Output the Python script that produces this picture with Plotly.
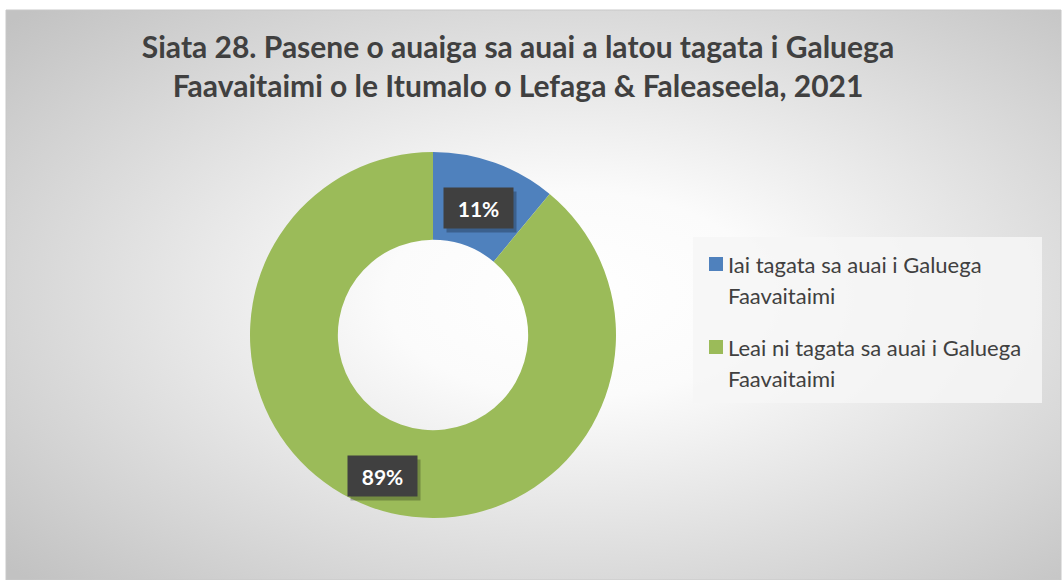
import base64
import math
import plotly.graph_objects as go

# ---- data ----
labels = ["Iai tagata sa auai i Galuega<br>Faavaitaimi",
          "Leai ni tagata sa auai i Galuega<br>Faavaitaimi"]
values = [11, 89]
colors = ["#4f81bd", "#9bbb59"]
title_text = ("Siata 28. Pasene o auaiga sa auai a latou tagata i Galuega<br>"
              "Faavaitaimi o le Itumalo o Lefaga & Faleaseela, 2021")

W, H = 1063, 580
FONT = "Lato"

# pie geometry (pixels)
cx_px, cy_px, R_px = 433, 335, 183
dom_x = [(cx_px - R_px) / W, (cx_px + R_px) / W]
dom_y = [(H - cy_px - R_px) / H, (H - cy_px + R_px) / H]

fig = go.Figure()
fig.add_trace(go.Pie(
    labels=labels, values=values, hole=0.52, sort=False,
    direction="clockwise", rotation=0,
    marker=dict(colors=colors, line=dict(width=0)),
    textinfo="none", hoverinfo="label+percent",
    domain=dict(x=dom_x, y=dom_y), showlegend=False,
))

# background radial gradient
svg = ("<svg xmlns='http://www.w3.org/2000/svg' width='1054' height='570' "
       "preserveAspectRatio='none' viewBox='0 0 1054 570'>"
       "<defs><radialGradient id='g' cx='0.54' cy='0.5' r='0.72'>"
       "<stop offset='0' stop-color='#ffffff'/>"
       "<stop offset='0.25' stop-color='#fbfbfb'/>"
       "<stop offset='1' stop-color='#c2c2c2'/></radialGradient></defs>"
       "<rect x='0' y='0' width='1054' height='570' fill='url(#g)'/></svg>")
src = "data:image/svg+xml;base64," + base64.b64encode(svg.encode()).decode()
x0, y0, x1, y1 = 6, 10, 1061, 580
fig.add_layout_image(dict(
    source=src, xref="paper", yref="paper",
    x=x0 / W, y=1 - y0 / H, sizex=(x1 - x0) / W, sizey=(y1 - y0) / H,
    xanchor="left", yanchor="top", sizing="stretch", layer="below",
))
fig.add_shape(type="rect", xref="paper", yref="paper",
              x0=x0 / W, x1=x1 / W, y0=0, y1=1 - y0 / H,
              line=dict(color="#c8c8c8", width=1), layer="below")

# percentage labels in dark boxes
total = sum(values)
label_r = [0.74, 0.82]
cum = 0
for v, rr in zip(values, label_r):
    mid = (cum + v / 2) / total
    cum += v
    th = 2 * math.pi * mid
    px = cx_px + rr * R_px * math.sin(th)
    py = cy_px - rr * R_px * math.cos(th)
    pct = f"{round(100 * v / total)}%"
    for shadow in (True, False):
        fig.add_annotation(
            xref="paper", yref="paper", x=px / W, y=1 - py / H,
            xanchor="center", yanchor="middle",
            text="" if shadow else f"<b>{pct}</b>",
            showarrow=False, width=53, height=24, borderpad=8,
            bgcolor="rgba(0,0,0,0.25)" if shadow else "#404040",
            xshift=3 if shadow else 0, yshift=-4 if shadow else 0,
            font=dict(family=FONT, size=21, color="white"),
        )

# legend (drawn manually for exact spacing)
lg_x0, lg_y0, lg_x1, lg_y1 = 693, 237, 1042, 403
fig.add_shape(type="rect", xref="paper", yref="paper",
              x0=lg_x0 / W, x1=lg_x1 / W, y0=1 - lg_y1 / H, y1=1 - lg_y0 / H,
              fillcolor="rgba(246,246,246,0.85)", line=dict(width=0))
item_top = [264, 347]
line_gap = 31
for lab, col, yt in zip(labels, colors, item_top):
    fig.add_shape(type="rect", xref="paper", yref="paper",
                  x0=709 / W, x1=723 / W, y0=1 - (yt + 7) / H, y1=1 - (yt - 7) / H,
                  fillcolor=col, line=dict(width=0))
    for k, line in enumerate(lab.split("<br>")):
        fig.add_annotation(
            xref="paper", yref="paper", x=726 / W, y=1 - (yt + k * line_gap) / H,
            xanchor="left", yanchor="middle", text=line, showarrow=False,
            font=dict(family=FONT, size=22, color="#404040"),
        )

fig.update_layout(
    width=W, height=H,
    margin=dict(l=0, r=0, t=0, b=0),
    paper_bgcolor="white",
    title=dict(text=f"<b>{title_text}</b>", x=518 / W, xanchor="center",
               y=1 - 58 / H, yanchor="top",
               font=dict(family=FONT, size=30, color="#404040")),
    showlegend=False,
)

fig.write_html("out.html", config={"displayModeBar": False},
               post_script="document.body.style.margin='0';")
